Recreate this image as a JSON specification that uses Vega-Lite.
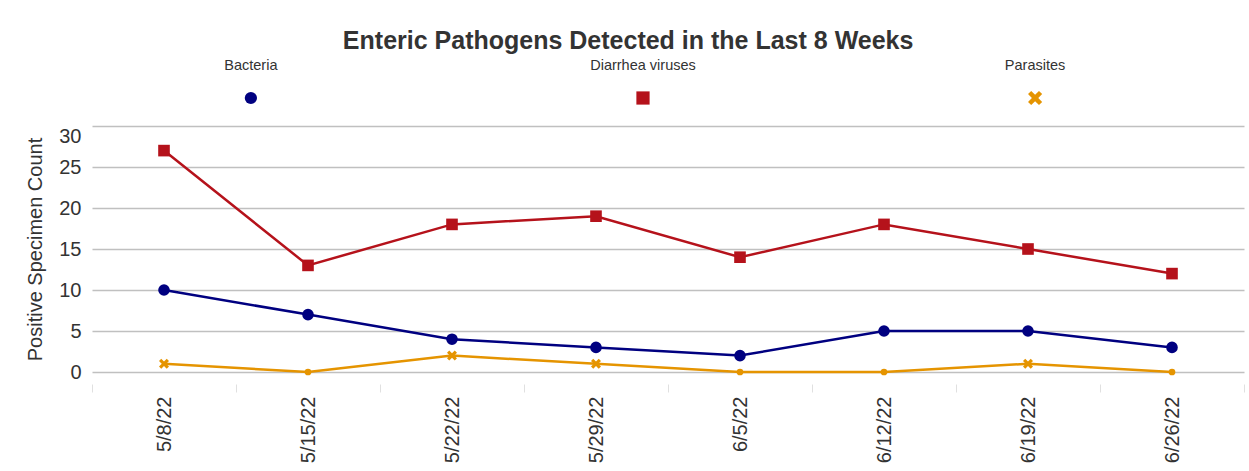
{
  "$schema": "https://vega.github.io/schema/vega-lite/v6.json",
  "padding": {"left": 25, "top": 29, "right": 0, "bottom": 0},
  "background": "white",
  "title": {
    "text": "Enteric Pathogens Detected in the Last 8 Weeks",
    "font": "Liberation Sans",
    "fontSize": 25,
    "fontWeight": "bold",
    "color": "#333333",
    "anchor": "middle",
    "offset": 4,
    "dx": -7
  },
  "datasets": {
    "series": [
      {"series": "Bacteria"},
      {"series": "Diarrhea viruses"},
      {"series": "Parasites"}
    ],
    "counts": [
      {"week": "5/8/22", "series": "Bacteria", "count": 10},
      {"week": "5/15/22", "series": "Bacteria", "count": 7},
      {"week": "5/22/22", "series": "Bacteria", "count": 4},
      {"week": "5/29/22", "series": "Bacteria", "count": 3},
      {"week": "6/5/22", "series": "Bacteria", "count": 2},
      {"week": "6/12/22", "series": "Bacteria", "count": 5},
      {"week": "6/19/22", "series": "Bacteria", "count": 5},
      {"week": "6/26/22", "series": "Bacteria", "count": 3},
      {"week": "5/8/22", "series": "Diarrhea viruses", "count": 27},
      {"week": "5/15/22", "series": "Diarrhea viruses", "count": 13},
      {"week": "5/22/22", "series": "Diarrhea viruses", "count": 18},
      {"week": "5/29/22", "series": "Diarrhea viruses", "count": 19},
      {"week": "6/5/22", "series": "Diarrhea viruses", "count": 14},
      {"week": "6/12/22", "series": "Diarrhea viruses", "count": 18},
      {"week": "6/19/22", "series": "Diarrhea viruses", "count": 15},
      {"week": "6/26/22", "series": "Diarrhea viruses", "count": 12},
      {"week": "5/8/22", "series": "Parasites", "count": 1},
      {"week": "5/15/22", "series": "Parasites", "count": 0},
      {"week": "5/22/22", "series": "Parasites", "count": 2},
      {"week": "5/29/22", "series": "Parasites", "count": 1},
      {"week": "6/5/22", "series": "Parasites", "count": 0},
      {"week": "6/12/22", "series": "Parasites", "count": 0},
      {"week": "6/19/22", "series": "Parasites", "count": 1},
      {"week": "6/26/22", "series": "Parasites", "count": 0}
    ]
  },
  "spacing": 18,
  "vconcat": [
    {
      "width": 1152,
      "height": 20,
      "data": {"name": "series"},
      "encoding": {
        "x": {
          "field": "series",
          "type": "nominal",
          "scale": {"type": "point", "domain": ["Bacteria", "Diarrhea viruses", "Parasites"], "padding": 0.469, "align": 0.432},
          "axis": null
        }
      },
      "layer": [
        {
          "mark": {"type": "point", "filled": true, "opacity": 1},
          "encoding": {
            "color": {"field": "series", "type": "nominal", "scale": {"domain": ["Bacteria", "Diarrhea viruses", "Parasites"], "range": ["#000080", "#B5121B", "#E59400"]}, "legend": null},
            "shape": {"field": "series", "type": "nominal", "scale": {"domain": ["Bacteria", "Diarrhea viruses", "Parasites"], "range": ["circle", "square", "M-1,-0.55L-0.55,-1L0,-0.45L0.55,-1L1,-0.55L0.45,0L1,0.55L0.55,1L0,0.45L-0.55,1L-1,0.55L-0.45,0Z"]}, "legend": null},
            "size": {"field": "series", "type": "nominal", "scale": {"domain": ["Bacteria", "Diarrhea viruses", "Parasites"], "range": [150, 200, 150]}, "legend": null}
          }
        },
        {
          "mark": {"type": "text", "dy": -32, "font": "Liberation Sans", "fontSize": 14.5, "color": "#333333"},
          "encoding": {"text": {"field": "series"}}
        }
      ]
    },
    {
      "width": 1152,
      "height": 246,
      "data": {"name": "counts"},
      "encoding": {
        "x": {
          "field": "week",
          "type": "ordinal",
          "sort": null,
          "scale": {"type": "band", "paddingInner": 0, "paddingOuter": 0},
          "axis": {
            "title": null,
            "labelAngle": -90,
            "labelFontSize": 20,
            "labelFont": "Liberation Sans",
            "labelColor": "#333333",
            "domain": false,
            "ticks": true,
            "tickBand": "extent",
            "tickColor": "#e0e0e0",
            "tickSize": 8,
            "offset": 12,
            "labelPadding": 4,
            "grid": false
          }
        },
        "y": {
          "field": "count",
          "type": "quantitative",
          "scale": {"domain": [0, 30], "nice": false},
          "axis": {
            "title": "Positive Specimen Count",
            "values": [0, 5, 10, 15, 20, 25, 30],
            "labelFontSize": 20,
            "labelFont": "Liberation Sans",
            "labelColor": "#333333",
            "labelBaseline": {"condition": {"test": "datum.value >= 30", "value": "top"}, "value": "middle"},
            "titleFont": "Liberation Sans",
            "titleFontSize": 20,
            "titleFontWeight": "normal",
            "titleColor": "#333333",
            "titlePadding": 13,
            "domain": false,
            "ticks": false,
            "labelPadding": 11,
            "grid": true,
            "gridColor": "#c0c0c0",
            "gridWidth": 1.5
          }
        },
        "color": {"field": "series", "type": "nominal", "scale": {"domain": ["Bacteria", "Diarrhea viruses", "Parasites"], "range": ["#000080", "#B5121B", "#E59400"]}, "legend": null}
      },
      "layer": [
        {"mark": {"type": "line", "strokeWidth": 2.5}},
        {
          "mark": {"type": "point", "filled": true, "opacity": 1},
          "encoding": {
            "shape": {
              "condition": {"test": "datum.series === 'Parasites' && datum.count === 0", "value": "circle"},
              "field": "series", "type": "nominal",
              "scale": {"domain": ["Bacteria", "Diarrhea viruses", "Parasites"], "range": ["circle", "square", "M-1,-0.55L-0.55,-1L0,-0.45L0.55,-1L1,-0.55L0.45,0L1,0.55L0.55,1L0,0.45L-0.55,1L-1,0.55L-0.45,0Z"]},
              "legend": null
            },
            "size": {
              "condition": [
                {"test": "datum.series === 'Parasites' && datum.count === 0", "value": 45},
                {"test": "datum.series === 'Parasites'", "value": 100}
              ],
              "value": 135
            }
          }
        }
      ]
    }
  ],
  "config": {"view": {"stroke": null}}
}
